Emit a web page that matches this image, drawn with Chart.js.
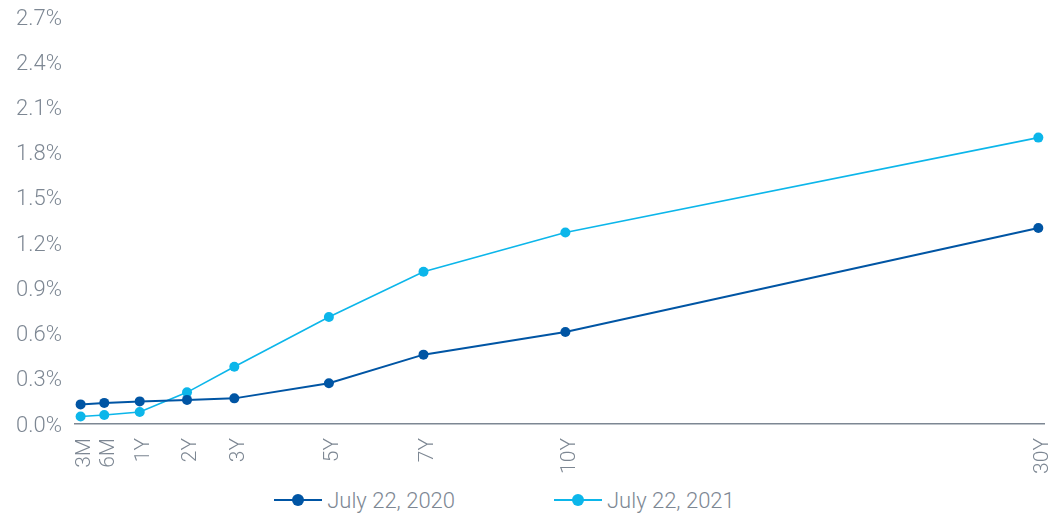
<!DOCTYPE html>
<html>
<head>
<meta charset="utf-8">
<script src="https://cdn.jsdelivr.net/npm/chart.js@4.4.1/dist/chart.umd.min.js"></script>
<style>
  html, body { margin: 0; padding: 0; background: #fff; }
  #wrap { position: relative; width: 1049px; height: 486px; }
  #legend {
    display: flex; justify-content: center; align-items: center;
    height: 28px; padding-right: 40px;
    font-family: Roboto, "Noto Sans", sans-serif; font-weight: 300;
    font-size: 22px; color: #7d8793;
  }
  .item { display: flex; align-items: center; }
  .item + .item { margin-left: 99px; }
  .marker { position: relative; width: 48px; height: 12px; margin-right: 5px; }
  .marker .ln { position: absolute; left: 0; right: 0; top: 5px; height: 2px; }
  .marker .dot { position: absolute; left: 18px; top: 0; width: 12px; height: 12px; border-radius: 50%; }
</style>
</head>
<body>
<div id="wrap"><canvas id="curveChart"></canvas></div>
<div id="legend"></div>
<script>
// tenor labels and their place on the (non-uniform) maturity axis
const tenors = ['3M', '6M', '1Y', '2Y', '3Y', '5Y', '7Y', '10Y', '30Y'];
const tenorAxis = [0, 0.5, 1.25, 2.25, 3.25, 5.25, 7.25, 10.25, 20.25];

const seriesNames = ['July 22, 2020', 'July 22, 2021'];
const yields2020 = [0.13, 0.14, 0.15, 0.16, 0.17, 0.27, 0.46, 0.61, 1.30];
const yields2021 = [0.05, 0.06, 0.08, 0.21, 0.38, 0.71, 1.01, 1.27, 1.90];

const yTicks = [0, 0.3, 0.6, 0.9, 1.2, 1.5, 1.8, 2.1, 2.4, 2.7];

const colors = ['#0055a4', '#0cb6ea'];
const gray = '#7d8793';

function toPoints(vals) {
  return vals.map((v, i) => ({ x: tenorAxis[i], y: v }));
}

const ctx = document.getElementById('curveChart').getContext('2d');

const curveChart = new Chart(ctx, {
  type: 'line',
  data: {
    datasets: [
      {
        label: seriesNames[0],
        data: toPoints(yields2020),
        borderColor: colors[0],
        backgroundColor: colors[0],
        borderWidth: 2,
        pointRadius: 5,
        pointBorderWidth: 0,
        tension: 0
      },
      {
        label: seriesNames[1],
        data: toPoints(yields2021),
        borderColor: colors[1],
        backgroundColor: colors[1],
        borderWidth: 1.6,
        pointRadius: 5,
        pointBorderWidth: 0,
        tension: 0
      }
    ]
  },
  options: {
    animation: false,
    responsive: true,
    maintainAspectRatio: false,
    layout: { padding: { top: 17, left: 3, right: 4, bottom: 12 } },
    plugins: {
      legend: { display: false },
      tooltip: { enabled: false }
    },
    scales: {
      x: {
        type: 'linear',
        min: -0.12,
        max: 20.37,
        afterBuildTicks: (axis) => {
          axis.ticks = tenorAxis.map(v => ({ value: v }));
        },
        afterFit: (axis) => {
          // let the last rotated label hang near the edge like the original
          axis.paddingLeft = 0;
          axis.paddingRight = 0;
          axis.height = 50;
        },
        grid: { display: false, drawTicks: false },
        border: { display: true, color: gray, width: 1.5 },
        ticks: {
          autoSkip: false,
          maxRotation: 90,
          minRotation: 90,
          padding: 14,
          labelOffset: 4,
          color: gray,
          font: { family: 'Roboto', size: 21, weight: '300' },
          callback: (value, index) => tenors[index]
        }
      },
      y: {
        min: 0,
        max: 2.7,
        afterBuildTicks: (axis) => {
          axis.ticks = yTicks.map(v => ({ value: v }));
        },
        afterFit: (axis) => {
          axis.paddingTop = 0;
          axis.paddingBottom = 0;
        },
        grid: { display: false, drawTicks: false },
        border: { display: false },
        ticks: {
          padding: 13,
          labelOffset: 2,
          color: gray,
          font: { family: 'Roboto', size: 22, weight: '300' },
          callback: (value) => value.toFixed(1) + '%'
        }
      }
    }
  }
});

// html legend: line with a dot, then the date
const legend = document.getElementById('legend');
seriesNames.forEach((name, i) => {
  const item = document.createElement('div');
  item.className = 'item';
  const marker = document.createElement('div');
  marker.className = 'marker';
  const ln = document.createElement('div');
  ln.className = 'ln';
  ln.style.background = colors[i];
  const dot = document.createElement('div');
  dot.className = 'dot';
  dot.style.background = colors[i];
  marker.appendChild(ln);
  marker.appendChild(dot);
  const text = document.createElement('span');
  text.textContent = name;
  item.appendChild(marker);
  item.appendChild(text);
  legend.appendChild(item);
});
</script>
</body>
</html>
